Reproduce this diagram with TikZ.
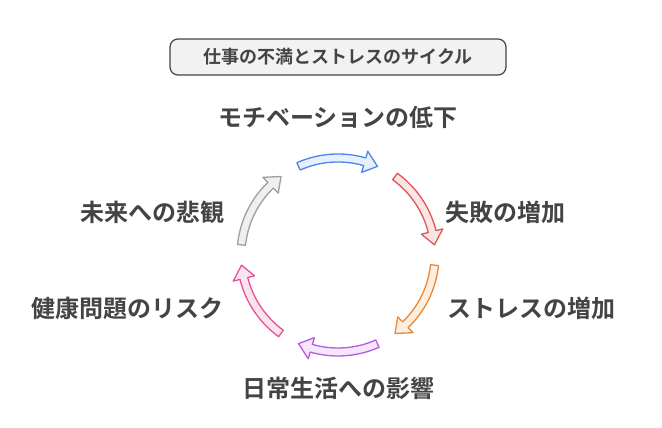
\documentclass[tikz,border=0pt]{standalone}
\usepackage{fontspec}
\newfontfamily\cjk[BoldFont={Noto Sans CJK JP Bold}]{Noto Sans CJK JP}
\usetikzlibrary{calc}
\definecolor{txt}{HTML}{444444}
\definecolor{bD}{HTML}{4A86E8}\definecolor{bF}{HTML}{E8F0FE}
\definecolor{rD}{HTML}{E05555}\definecolor{rF}{HTML}{FDE4E4}
\definecolor{oD}{HTML}{E8883A}\definecolor{oF}{HTML}{FDEEDD}
\definecolor{pD}{HTML}{B65BE0}\definecolor{pF}{HTML}{F4E6FB}
\definecolor{kD}{HTML}{E0559A}\definecolor{kF}{HTML}{FBE2EF}
\definecolor{gD}{HTML}{9E9E9E}\definecolor{gF}{HTML}{F0F0F0}
\newcommand\harrow[3]{%
 \pgfmathsetmacro\aS{#1+24}\pgfmathsetmacro\aH{#1-24+8}\pgfmathsetmacro\aE{#1-24}%
 \draw[draw=#2,fill=#3,line width=1.3pt,line join=round]
 ([shift={(\aS:101)}]c) arc[start angle=\aS,end angle=\aH,radius=101]
 -- ([shift={(\aH:108)}]c) -- ([shift={(\aE:97)}]c) -- ([shift={(\aH:86)}]c)
 -- ([shift={(\aH:93)}]c) arc[start angle=\aH,end angle=\aS,radius=93] -- cycle;}
\tikzset{lab/.style={font=\cjk\bfseries\fontsize{24}{28}\selectfont,text=txt,inner sep=0pt}}
\begin{document}
\begin{tikzpicture}[x=1pt,y=1pt]
\useasboundingbox (0,0) rectangle (662,428);
\coordinate (c) at (338,173);
\node[draw=txt,fill=black!5,line width=1.2pt,rounded corners=8pt,minimum width=336pt,minimum height=36pt,font=\cjk\bfseries\fontsize{18}{22}\selectfont,text=txt] (title) at (338,371) {仕事の不満とストレスのサイクル};
\harrow{90}{bD}{bF}
\harrow{30}{rD}{rF}
\harrow{-30}{oD}{oF}
\harrow{-90}{pD}{pF}
\harrow{-150}{kD}{kF}
\harrow{150}{gD}{gF}
\node[lab] (m) at (338,311) {モチベーションの低下};
\node[lab,anchor=west] (f) at (445,216) {失敗の増加};
\node[lab,anchor=west] (s) at (447,120) {ストレスの増加};
\node[lab] (d) at (338,40) {日常生活への影響};
\node[lab,anchor=east] (h) at (224,120) {健康問題のリスク};
\node[lab,anchor=east] (p) at (225,216) {未来への悲観};
\end{tikzpicture}
\end{document}
